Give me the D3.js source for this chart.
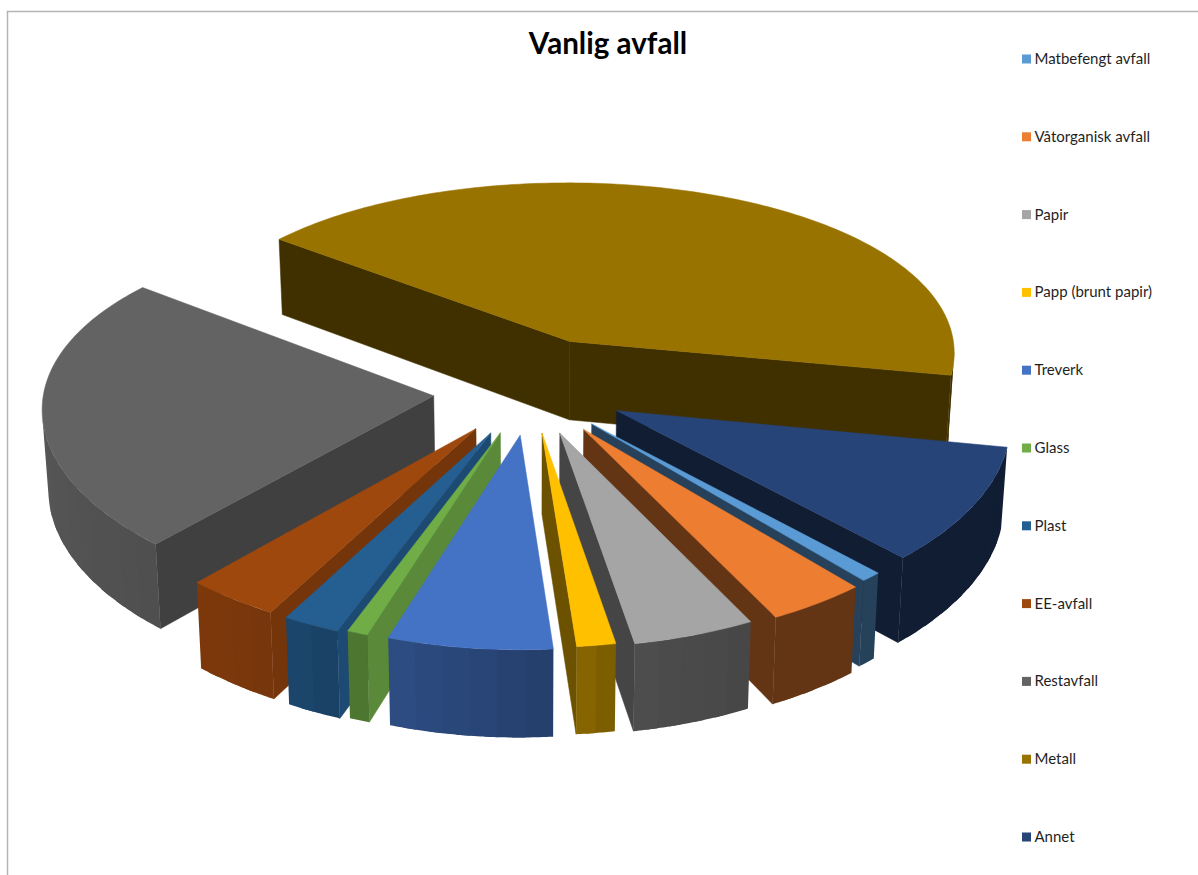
<!DOCTYPE html>
<html lang="no">
<head>
<meta charset="utf-8">
<title>Vanlig avfall</title>
<style>
  html, body { margin: 0; padding: 0; background: #fff; }
  svg { display: block; }
  text { font-family: Lato, "Open Sans", sans-serif; fill: #1f1f1f; }
</style>
</head>
<body>
<svg id="chart" width="1198" height="875"></svg>
<script src="https://cdn.jsdelivr.net/npm/d3@7/dist/d3.min.js"></script>
<script>
const chartTitle = "Vanlig avfall";
const categories = ["Matbefengt avfall", "Våtorganisk avfall", "Papir", "Papp (brunt papir)", "Treverk", "Glass", "Plast", "EE-avfall", "Restavfall", "Metall", "Annet"];
const shares = [0.8, 3.8, 4.7, 1.5, 6.35, 0.8, 2.2, 3.6, 24.03, 42.36, 9.86];
const explosion = [0.23, 0.24, 0.23, 0.22, 0.23, 0.23, 0.24, 0.24, 0.25, 0.30, 0.24];
const explosionBearing = [0, 0, 0, 0, 0, 0, 0, 0, 0, -5, -4];
const palette = ["#5b9bd5", "#ed7d31", "#a5a5a5", "#ffc000", "#4472c4", "#70ad47", "#255e91", "#9e480e", "#636363", "#997300", "#264478"];

const svg = d3.select("#chart");
const deg = Math.PI / 180;

// Frame of the chart area, open to the right and bottom.
svg.append("path")
  .attr("d", "M7.5,875V11.5H1198")
  .attr("fill", "none").attr("stroke", "#b4b4b4").attr("stroke-width", 1.5);

svg.append("text")
  .attr("x", 608).attr("y", 54)
  .attr("text-anchor", "middle")
  .attr("font-size", 29.6).attr("font-weight", 700)
  .style("fill", "#000")
  .text(chartTitle);

// Perspective camera for the tilted disc: unit coordinates to pixels.
const perspectiveX = 0.06, perspectiveY = 0.10, taper = 0.013, thickness = 0.44;
const sx = d3.scaleLinear().domain([-1, 1]).range([531 - 390, 531 + 390]);
const sy = d3.scaleLinear().domain([-1, 1]).range([392 - 184, 392 + 184]);
function project(x, y, lower) {
  const wx = (1 - perspectiveX * y) * (1 + taper * lower);
  const wy = (1 - perspectiveY * y) * (1 + taper * lower);
  return [sx(x / wx), sy(y / wy + thickness * lower / wy)];
}

// Light falloff by the direction a surface faces, in degrees clockwise from the back.
const wallShade = d3.scaleLinear()
  .domain([100, 150, 170, 176, 199, 210, 225, 260, 310])
  .range([0.43, 0.42, 0.47, 0.55, 0.68, 0.75, 0.8, 0.87, 0.85]).clamp(true);
const cutShade = d3.scaleLinear()
  .domain([109, 134, 190])
  .range([0.8, 0.63, 0.42]).clamp(true);

function shaded(color, k) {
  const c = d3.rgb(color);
  return d3.rgb(c.r * k, c.g * k, c.b * k).formatHex();
}
const polyline = d3.line();
const polygon = pts => polyline(pts) + "Z";
function facesViewer(pts) {
  return d3.polygonArea(pts) > 0;
}

const pie = d3.pie().sort(null).value(d => d)
  .startAngle(136.5 * deg).endAngle((136.5 + 360) * deg);

const slices = pie(shares).map((d, i) => {
  const mid = (d.startAngle + d.endAngle) / 2;
  const pull = mid + explosionBearing[i] * deg;
  const e = explosion[i];
  return {
    i, a0: d.startAngle, a1: d.endAngle,
    ox: Math.sin(pull) * e, oy: -Math.cos(pull) * e,
    depth: -Math.cos(mid) * e + -Math.cos(mid)
  };
}).sort((a, b) => a.depth - b.depth);

const layer = svg.append("g");
function face(pts, fill, edge = 0.5) {
  const path = layer.append("path").attr("d", polygon(pts)).attr("fill", fill);
  if (edge) path.attr("stroke", fill).attr("stroke-width", edge);
}

slices.forEach(s => {
  const color = palette[s.i];
  const rim = (a, lower) => project(s.ox + Math.sin(a), s.oy - Math.cos(a), lower);
  const apex = lower => project(s.ox, s.oy, lower);

  // Cut faces running from the centre out to the rim.
  [[s.a0, -90], [s.a1, 90]].forEach(([a, turn]) => {
    const pts = turn < 0
      ? [apex(0), rim(a, 0), rim(a, 1), apex(1)]
      : [rim(a, 0), apex(0), apex(1), rim(a, 1)];
    if (facesViewer(pts)) {
      const normal = (a / deg + turn + 360) % 360;
      face(pts, shaded(color, cutShade(normal)));
    }
  });

  // Outer wall: each facet runs under the next one, so no seams show along the curve.
  const steps = Math.max(1, Math.ceil((s.a1 - s.a0) / (4 * deg)));
  const angleAt = d3.scaleLinear().domain([0, steps]).range([s.a0, s.a1]);
  d3.range(steps).forEach(k => {
    const a = angleAt(k), b = angleAt(k + 1);
    const fine = d3.range(0, 9).map(t => a + (b - a) * t / 8);
    const end = Math.min(b + (b - a) * 0.5, s.a1);
    fine.push(end);
    const pts = fine.map(t => rim(t, 0)).concat(fine.slice().reverse().map(t => rim(t, 1)));
    if (facesViewer(pts)) {
      const facing = (((a + b) / 2) / deg) % 360;
      face(pts, shaded(color, wallShade(facing)), 0);
    }
  });

  // Top surface.
  const n = Math.ceil((s.a1 - s.a0) / deg);
  const arcAt = d3.scaleLinear().domain([0, n]).range([s.a0, s.a1]);
  const top = [apex(0)].concat(d3.range(n + 1).map(k => rim(arcAt(k), 0)));
  face(top, color);
});

// Legend column down the right-hand side.
const legendY = d3.scalePoint().domain(categories).range([59, 837]);
const legend = svg.append("g").selectAll("g").data(categories).join("g")
  .attr("transform", d => `translate(1022,${legendY(d)})`);
legend.append("rect")
  .attr("x", 0).attr("y", -4.5).attr("width", 9).attr("height", 9)
  .attr("fill", (d, i) => palette[i]);
legend.append("text")
  .attr("x", 12.5).attr("y", 5)
  .attr("font-size", 15)
  .text(d => d);
</script>
</body>
</html>
